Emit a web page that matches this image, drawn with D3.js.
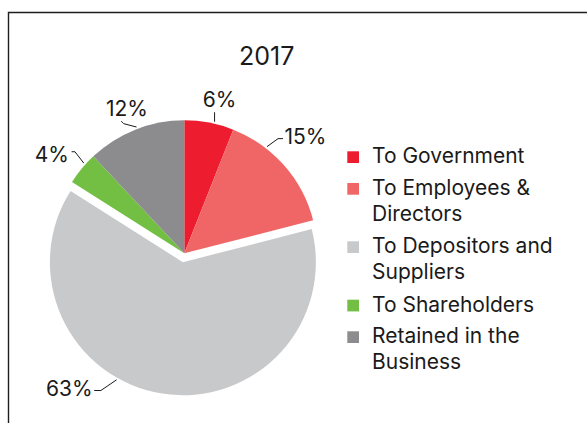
<!DOCTYPE html>
<html>
<head>
<meta charset="utf-8">
<script src="https://cdn.jsdelivr.net/npm/d3@7"></script>
<style>
  html, body { margin: 0; padding: 0; background: #ffffff; }
  svg { display: block; }
  text { font-family: Inter, "Liberation Sans", Arial, sans-serif; fill: #1a1a1a; }
</style>
</head>
<body>
<svg id="chart" width="587" height="423"></svg>
<script>
// Distribution of value added, 2017
const chartTitle = "2017";
const categories = [
  "To Government",
  "To Employees & Directors",
  "To Depositors and Suppliers",
  "To Shareholders",
  "Retained in the Business"
];
const shares = [6, 15, 63, 4, 12];
const legendLines = [
  ["To Government"],
  ["To Employees &", "Directors"],
  ["To Depositors and", "Suppliers"],
  ["To Shareholders"],
  ["Retained in the", "Business"]
];
const sliceColors = ["#ed1c2e", "#f06666", "#c8c9cb", "#72bf44", "#8c8c8e"];

// Slice pulled out of the pie
const explodedIndex = 2;

// Where each value label's leader leaves the rim (fraction across the slice)
// and how the leader and text sit relative to that point.
const labelLayout = [
  { t: 0.60, pts: [[0, -9.5]],               text: [5, -15],      anchor: "middle" },
  { t: 0.30, pts: [[11, -8], [16, -8]],      text: [17.5, -2.3],  anchor: "start" },
  { t: 0.59, pts: [[-15.7, 10.7], [-22.4, 10.7]], text: [-24, 16.6], anchor: "end" },
  { t: 0.66, pts: [[-8.9, -11.4], [-12.2, -11.4]], text: [-15, -1.4], anchor: "end" },
  { t: 0.52, pts: [[-12.8, -3.4], [-15.3, -5.9]],  text: [-9.5, -10.9], anchor: "middle" }
];

const svg = d3.select("#chart");

// Frame
svg.append("path")
  .attr("d", "M8.5,423V12.5H587")
  .attr("fill", "none")
  .attr("stroke", "#1e1e1e")
  .attr("stroke-width", 1.4);

// Title
svg.append("text")
  .attr("x", 266.7)
  .attr("y", 65)
  .attr("text-anchor", "middle")
  .style("font-size", "25px")
  .text(chartTitle);

const cx = 184.3, cy = 253.3, radius = 133, explode = 9;

const pie = d3.pie().sort(null).value(d => d)(shares);
const arc = d3.arc().innerRadius(0).outerRadius(radius);

const g = svg.append("g").attr("transform", `translate(${cx},${cy})`);

function offsetOf(d, i) {
  if (i !== explodedIndex) return [0, 0];
  const a = (d.startAngle + d.endAngle) / 2;
  return [explode * Math.sin(a), -explode * Math.cos(a)];
}

g.selectAll("path.slice")
  .data(pie)
  .join("path")
  .attr("class", "slice")
  .attr("d", arc)
  .attr("fill", (d, i) => sliceColors[i])
  .attr("transform", (d, i) => {
    const [ox, oy] = offsetOf(d, i);
    return `translate(${ox},${oy})`;
  });

// Value labels with leader lines
const labels = g.selectAll("g.label")
  .data(pie)
  .join("g")
  .attr("class", "label")
  .attr("transform", (d, i) => {
    const [ox, oy] = offsetOf(d, i);
    const L = labelLayout[i];
    const a = d.startAngle + L.t * (d.endAngle - d.startAngle);
    const r = radius + 2;
    return `translate(${ox + r * Math.sin(a)},${oy - r * Math.cos(a)})`;
  });

labels.append("path")
  .attr("d", (d, i) => d3.line()([[0, 0], ...labelLayout[i].pts]))
  .attr("fill", "none")
  .attr("stroke", "#1a1a1a")
  .attr("stroke-width", 1);

labels.append("text")
  .attr("x", (d, i) => labelLayout[i].text[0])
  .attr("y", (d, i) => labelLayout[i].text[1])
  .attr("text-anchor", (d, i) => labelLayout[i].anchor)
  .style("font-size", "21px")
  .text(d => d.data + "%");

// Legend
const legendX = 347.3, textX = 372;
const firstBaselines = [163.3, 195, 253.3, 311.7, 343.3];
const lineGap = 26;

const legend = svg.append("g").attr("class", "legend");
const items = legend.selectAll("g")
  .data(categories)
  .join("g")
  .attr("transform", (d, i) => `translate(0,${firstBaselines[i]})`);

items.append("rect")
  .attr("x", legendX)
  .attr("y", -12)
  .attr("width", 11.7)
  .attr("height", 11.7)
  .attr("fill", (d, i) => sliceColors[i]);

items.append("text")
  .attr("x", textX)
  .attr("y", 0)
  .style("font-size", "21px")
  .selectAll("tspan")
  .data((d, i) => legendLines[i])
  .join("tspan")
  .attr("x", textX)
  .attr("dy", (d, j) => j === 0 ? 0 : lineGap)
  .text(d => d);
</script>
</body>
</html>
